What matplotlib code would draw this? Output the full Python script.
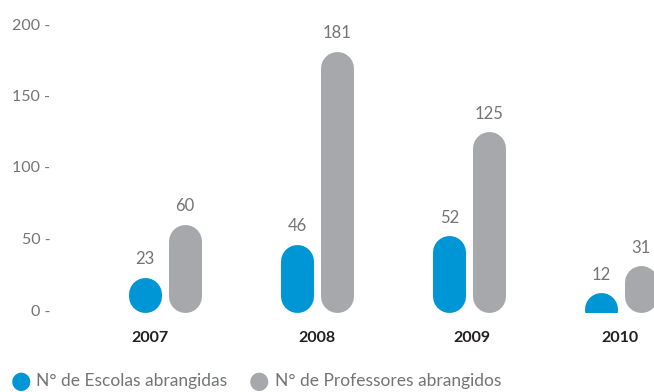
import matplotlib.pyplot as plt
from matplotlib.patches import Rectangle

years = ["2007", "2008", "2009", "2010"]
escolas = [23, 46, 52, 12]
professores = [60, 181, 125, 31]
yticks = [0, 50, 100, 150, 200]

BLUE = "#0096D6"
GRAY = "#A7A8AC"
TEXT = "#737477"
FONT = ["Lato", "DejaVu Sans"]

plt.rcParams["font.family"] = FONT

DPI = 100
W, H = 654, 392
PX_PER_UNIT = 1.43       # vertical scale, pixels per value unit
PX_PER_GROUP = 152       # horizontal spacing between years, pixels
ZERO_Y = 310             # pixel row of value 0 (from top)
FIRST_X = 165            # pixel column of the first group centre
AX_LEFT = 60

fig = plt.figure(figsize=(W / DPI, H / DPI), dpi=DPI)
ax = fig.add_axes([AX_LEFT / W, 0, 1 - AX_LEFT / W, 1])
ax.set_ylim(-(H - ZERO_Y) / PX_PER_UNIT, ZERO_Y / PX_PER_UNIT)
ax.set_xlim((AX_LEFT - FIRST_X) / PX_PER_GROUP, (W - FIRST_X) / PX_PER_GROUP)
for s in ax.spines.values():
    s.set_visible(False)
ax.set_xticks([])
ax.set_yticks(yticks)
ax.set_yticklabels([f"{v} -" for v in yticks])
ax.tick_params(axis="y", length=0, pad=7, labelsize=11.5, labelcolor=TEXT)

bar_px = 33
lw_pt = bar_px * 72 / DPI
r = bar_px / 2 / PX_PER_UNIT
base = -2
offset = 0.13
# the year captions are not exactly centred under each pair in the original
year_shift = [-0.1, 0.0, 0.02, -0.01]

clip = Rectangle((-5, base), 20, 400, transform=ax.transData)


def pill(x, value, color):
    y_high = value - r
    y_low = min(base + r, y_high - 0.5)
    (ln,) = ax.plot([x, x], [y_low, y_high], color=color, lw=lw_pt,
                    solid_capstyle="round")
    ln.set_clip_path(clip)
    ax.annotate(str(value), (x, value), xytext=(0, 7), textcoords="offset points",
                ha="center", va="bottom", fontsize=12, color=TEXT)


for i, year in enumerate(years):
    pill(i - offset, escolas[i], BLUE)
    pill(i + offset, professores[i], GRAY)
    ax.text(i + year_shift[i], -28 / PX_PER_UNIT, year, ha="center", va="center",
            fontsize=11.5, fontweight="bold", color="#231F20")

# legend
legend_y = 1 - 381 / H
fig.text(11 / W, legend_y, "\u25cf", color=BLUE, fontsize=17, va="center",
         family=["DejaVu Sans"])
fig.text(36 / W, legend_y, "N° de Escolas abrangidas", color=TEXT, fontsize=12.5,
         va="center")
fig.text(249 / W, legend_y, "\u25cf", color=GRAY, fontsize=17, va="center",
         family=["DejaVu Sans"])
fig.text(275 / W, legend_y, "N° de Professores abrangidos", color=TEXT,
         fontsize=12.5, va="center")

fig.savefig("out.png", dpi=DPI)
